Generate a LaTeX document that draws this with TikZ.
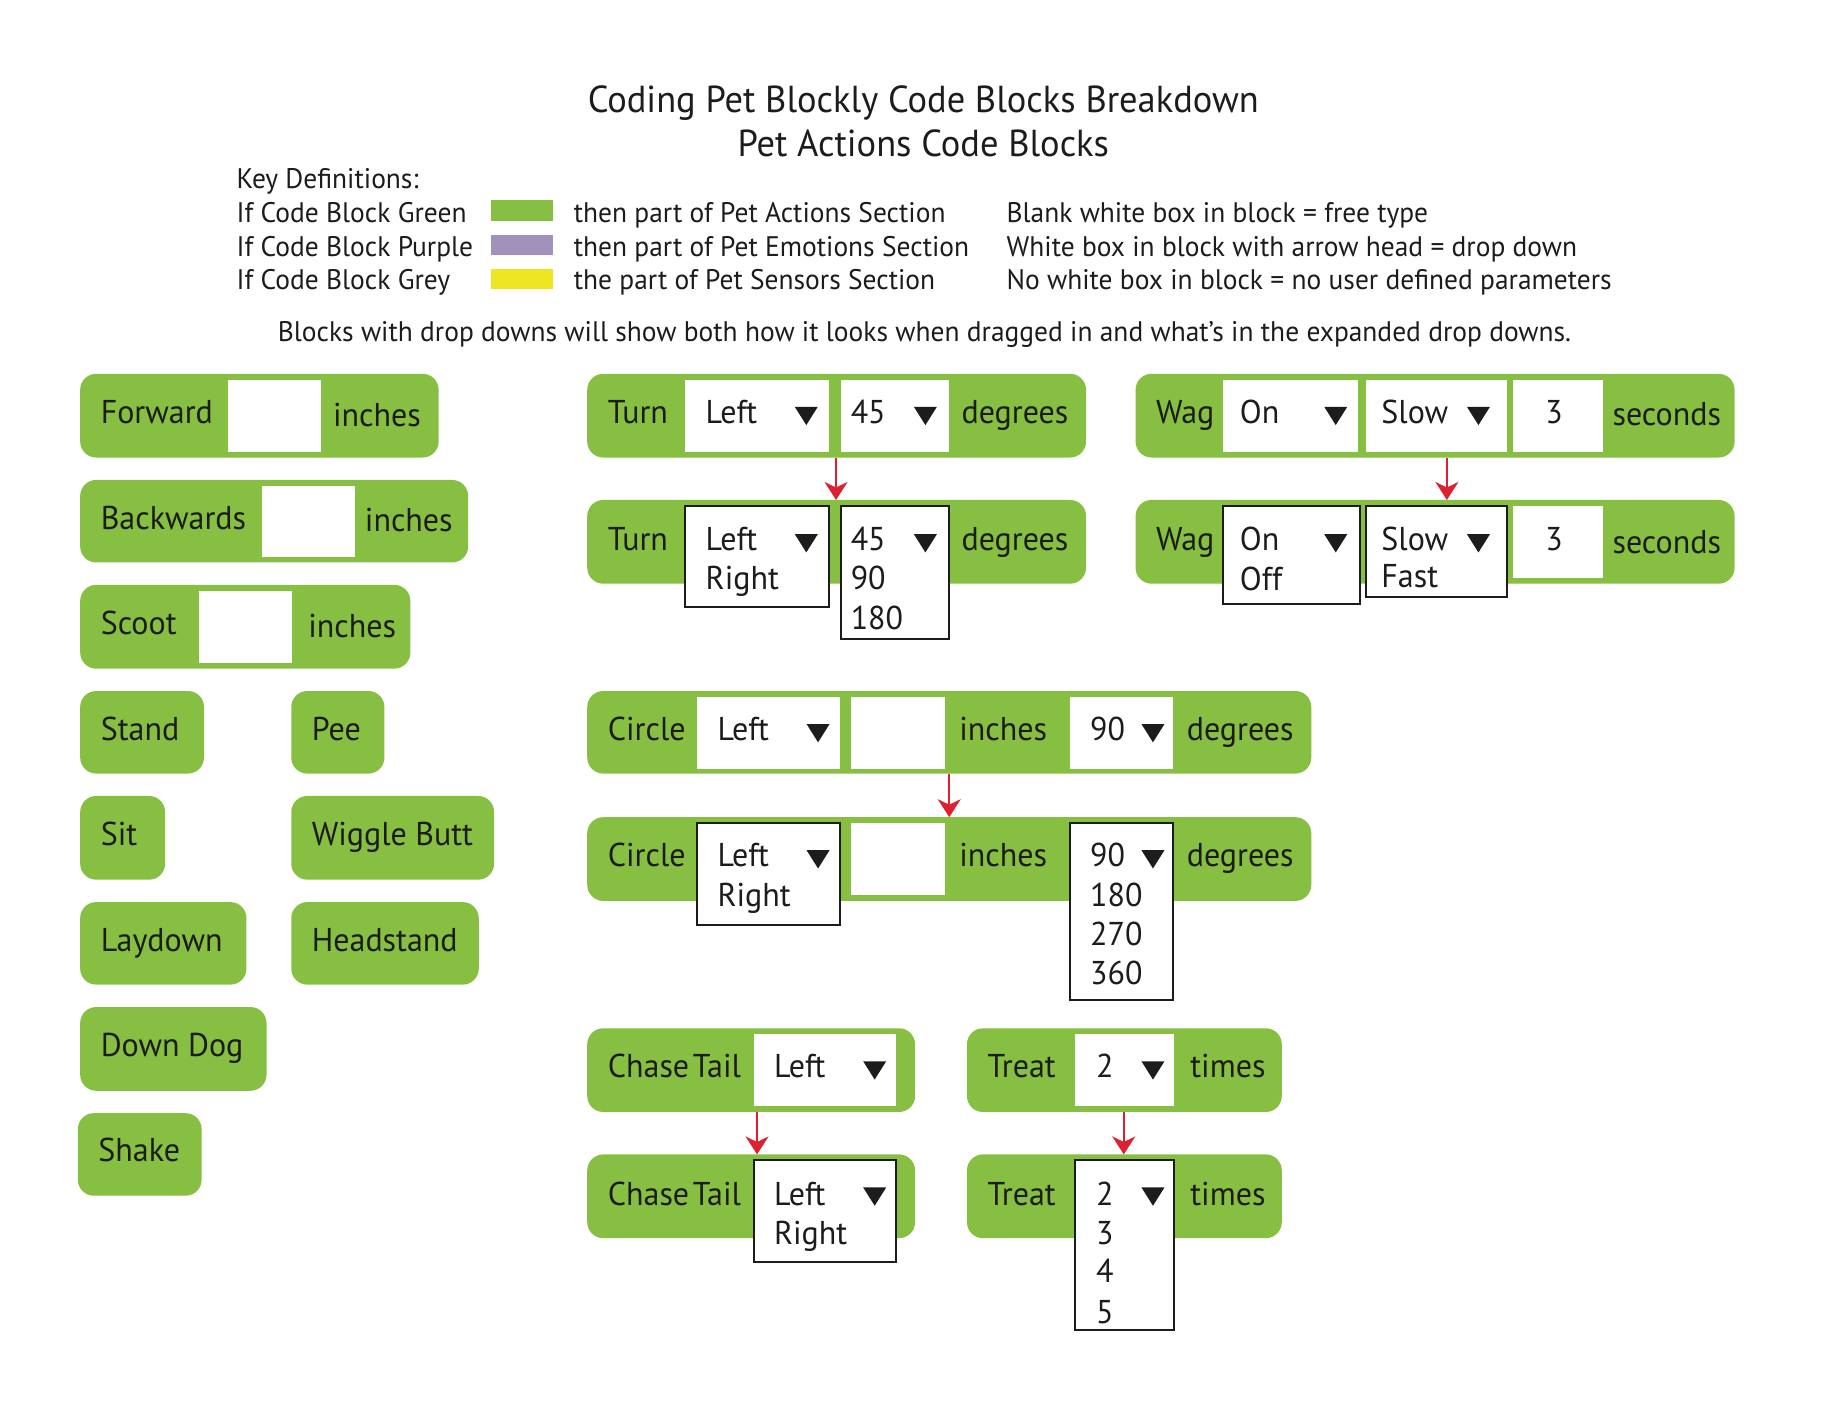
\documentclass[tikz,border=0pt]{standalone}
\usepackage{fontspec}
\setmainfont[FakeStretch=0.97]{PT Sans}
\usetikzlibrary{arrows.meta}
\definecolor{blockgreen}{HTML}{86BF41}
\definecolor{keypurple}{HTML}{A391BD}
\definecolor{keyyellow}{HTML}{EEE623}
\definecolor{ink}{HTML}{1C1C1C}
\definecolor{arrowred}{HTML}{DC2230}
\newcount\nn
\newcommand\bx[6]{%
  \pgfmathsetmacro\ww{(#5-#3)*1.1792}\pgfmathsetmacro\hh{(#6-#4)*1.1792}%
  \node[#1,minimum width=\ww pt,minimum height=\hh pt] (#2) at (#3,#4) {};}
\newcommand\tx[3]{\global\advance\nn by 1
  \node[lbl] (t\the\nn) at (#1-0.7,#2) {#3};}
\newcommand\kx[3]{\global\advance\nn by 1
  \node[keylbl] (t\the\nn) at (#1-0.5,#2+0.8) {#3};}
\newcommand\tri[2]{\fill[ink] (#1,#2) -- ++(19.5,0) -- ++(-9.75,15.5) -- cycle;}
\begin{document}
\begin{tikzpicture}[x=1.1792pt,y=-1.1792pt,
  base/.style={rectangle,anchor=north west,inner sep=0pt,outer sep=0pt},
  block/.style={base,fill=blockgreen,rounded corners=16pt},
  field/.style={base,fill=white},
  drop/.style={base,fill=white,draw=ink,line width=2pt},
  swatch/.style={base},
  lbl/.style={anchor=base west,inner sep=0pt,text=ink,font=\fontsize{33}{38}\selectfont},
  keylbl/.style={anchor=base west,inner sep=0pt,text=ink,font=\fontsize{28.3}{33}\selectfont},
  titlelbl/.style={anchor=base,inner sep=0pt,text=ink,font=\fontsize{37.6}{44}\selectfont},
  redarrow/.style={draw=arrowred,line width=1.8pt,-{Stealth[length=18pt,width=23pt,inset=5.5pt]}}]
\useasboundingbox (0pt,0pt) rectangle (1848pt,-1426pt);
% title
\node[titlelbl] (title1) at (783,95) {Coding Pet Blockly Code Blocks Breakdown};
\node[titlelbl] (title2) at (783,133) {Pet Actions Code Blocks};
% key
\kx{201}{159}{Key Definitions:}
\kx{201}{188}{If Code Block Green}
\kx{201}{217}{If Code Block Purple}
\kx{201}{245}{If Code Block Grey}
\bx{swatch,fill=blockgreen}{sw1}{416}{170}{469}{187}
\bx{swatch,fill=keypurple}{sw2}{416}{199}{469}{216}
\bx{swatch,fill=keyyellow}{sw3}{416}{228}{469}{245}
\kx{487}{188}{then part of Pet Actions Section}
\kx{487}{217}{then part of Pet Emotions Section}
\kx{487}{245}{the part of Pet Sensors Section}
\kx{854}{188}{Blank white box in block = free type}
\kx{854}{217}{White box in block with arrow head = drop down}
\kx{854}{245}{No white box in block = no user defined parameters}
\node[keylbl,anchor=base] (note) at (784,290) {Blocks with drop downs will show both how it looks when dragged in and what’s in the expanded drop downs.};
% left column
\bx{block}{fwd}{68}{317}{372}{388}\bx{field}{fwdf}{193}{322}{272}{383}
\tx{86}{359}{Forward}\tx{283}{362}{inches}
\bx{block}{bwd}{68}{407}{397}{477}\bx{field}{bwdf}{222}{412}{301}{472}
\tx{86}{449}{Backwards}\tx{310}{451}{inches}
\bx{block}{sct}{68}{496}{348}{567}\bx{field}{sctf}{169}{501}{248}{562}
\tx{86}{538}{Scoot}\tx{262}{541}{inches}
\bx{block}{std}{68}{586}{173}{656}\tx{86}{628}{Stand}
\bx{block}{pee}{247}{586}{326}{656}\tx{265}{628}{Pee}
\bx{block}{sit}{68}{675}{140}{746}\tx{86}{717}{Sit}
\bx{block}{wig}{247}{675}{419}{746}\tx{265}{717}{Wiggle Butt}
\bx{block}{lay}{68}{765}{209}{835}\tx{86}{807}{Laydown}
\bx{block}{hds}{247}{765}{406}{835}\tx{265}{807}{Headstand}
\bx{block}{dog}{68}{854}{226}{925}\tx{86}{896}{Down Dog}
\bx{block}{shk}{66}{944}{171}{1014}\tx{84}{985}{Shake}
% turn
\bx{block}{turnA}{498}{317}{921}{388}
\bx{field}{turnAa}{581}{322}{703}{383}\bx{field}{turnAb}{713}{322}{805}{383}
\tx{516}{359}{Turn}\tx{599}{359}{Left}\tri{674}{345}\tx{722}{359}{45}\tri{775}{345}\tx{816}{359}{degrees}
\bx{block}{turnB}{498}{424}{921}{495}
\bx{drop}{turnBa}{581}{429}{703}{515}\bx{drop}{turnBb}{713}{429}{805}{542}
\tx{516}{467}{Turn}\tx{599}{467}{Left}\tri{674}{453}\tx{599}{500}{Right}
\tx{722}{467}{45}\tri{775}{453}\tx{722}{500}{90}\tx{722}{534}{180}\tx{816}{467}{degrees}
\coordinate (turnX) at (709,0);
\draw[redarrow] (turnA.south -| turnX) -- (turnB.north -| turnX);
% wag
\bx{block}{wagA}{963}{317}{1471}{388}
\bx{field}{wagAa}{1037}{322}{1152}{383}\bx{field}{wagAb}{1158}{322}{1278}{383}\bx{field}{wagAc}{1283}{322}{1359}{383}
\tx{981}{359}{Wag}\tx{1052}{359}{On}\tri{1123}{345}\tx{1172}{359}{Slow}\tri{1244}{345}\tx{1311}{359}{3}\tx{1368}{361}{seconds}
\bx{block}{wagB}{963}{424}{1471}{495}
\bx{drop}{wagBa}{1037}{429}{1153}{512}\bx{drop}{wagBb}{1158}{429}{1278}{506}\bx{field}{wagBc}{1283}{429}{1359}{490}
\tx{981}{467}{Wag}\tx{1052}{467}{On}\tri{1123}{453}\tx{1052}{501}{Off}
\tx{1172}{467}{Slow}\tri{1244}{453}\tx{1172}{498}{Fast}\tx{1311}{467}{3}\tx{1368}{469}{seconds}
\coordinate (wagX) at (1227,0);
\draw[redarrow] (wagA.south -| wagX) -- (wagB.north -| wagX);
% circle
\bx{block}{cirA}{498}{586}{1112}{656}
\bx{field}{cirAa}{591}{591}{712}{652}\bx{field}{cirAb}{722}{591}{801}{652}\bx{field}{cirAc}{907}{591}{995}{652}
\tx{516}{628}{Circle}\tx{609}{628}{Left}\tri{684}{614}\tx{814}{628}{inches}\tx{925}{628}{90}\tri{968}{614}\tx{1007}{628}{degrees}
\bx{block}{cirB}{498}{693}{1112}{764}
\bx{drop}{cirBa}{591}{698}{712}{784}\bx{field}{cirBb}{722}{698}{801}{759}\bx{drop}{cirBc}{907}{698}{995}{848}
\tx{516}{735}{Circle}\tx{609}{735}{Left}\tri{684}{721}\tx{609}{769}{Right}\tx{814}{735}{inches}
\tx{925}{735}{90}\tri{968}{721}\tx{925}{769}{180}\tx{925}{802}{270}\tx{925}{835}{360}\tx{1007}{735}{degrees}
\coordinate (cirX) at (805,0);
\draw[redarrow] (cirA.south -| cirX) -- (cirB.north -| cirX);
% chase tail
\bx{block}{chsA}{498}{872}{776}{943}\bx{field}{chsAa}{639}{877}{760}{938}
\tx{516}{914}{Chase\kern-5pt\ Tail}\tx{657}{914}{Left}\tri{732}{900}
\bx{block}{chsB}{498}{979}{776}{1050}\bx{drop}{chsBa}{639}{984}{760}{1070}
\tx{516}{1022}{Chase\kern-5pt\ Tail}\tx{657}{1022}{Left}\tri{732}{1007}\tx{657}{1055}{Right}
\coordinate (chsX) at (642,0);
\draw[redarrow] (chsA.south -| chsX) -- (chsB.north -| chsX);
% treat
\bx{block}{trtA}{820}{872}{1087}{943}\bx{field}{trtAa}{912}{877}{996}{938}
\tx{838}{914}{Treat}\tx{930}{914}{2}\tri{968}{900}\tx{1010}{914}{times}
\bx{block}{trtB}{820}{979}{1087}{1050}\bx{drop}{trtBa}{912}{984}{996}{1128}
\tx{838}{1022}{Treat}\tx{930}{1022}{2}\tri{968}{1007}\tx{930}{1055}{3}\tx{930}{1088}{4}\tx{930}{1122}{5}\tx{1010}{1022}{times}
\coordinate (trtX) at (953,0);
\draw[redarrow] (trtA.south -| trtX) -- (trtB.north -| trtX);
\end{tikzpicture}
\end{document}
